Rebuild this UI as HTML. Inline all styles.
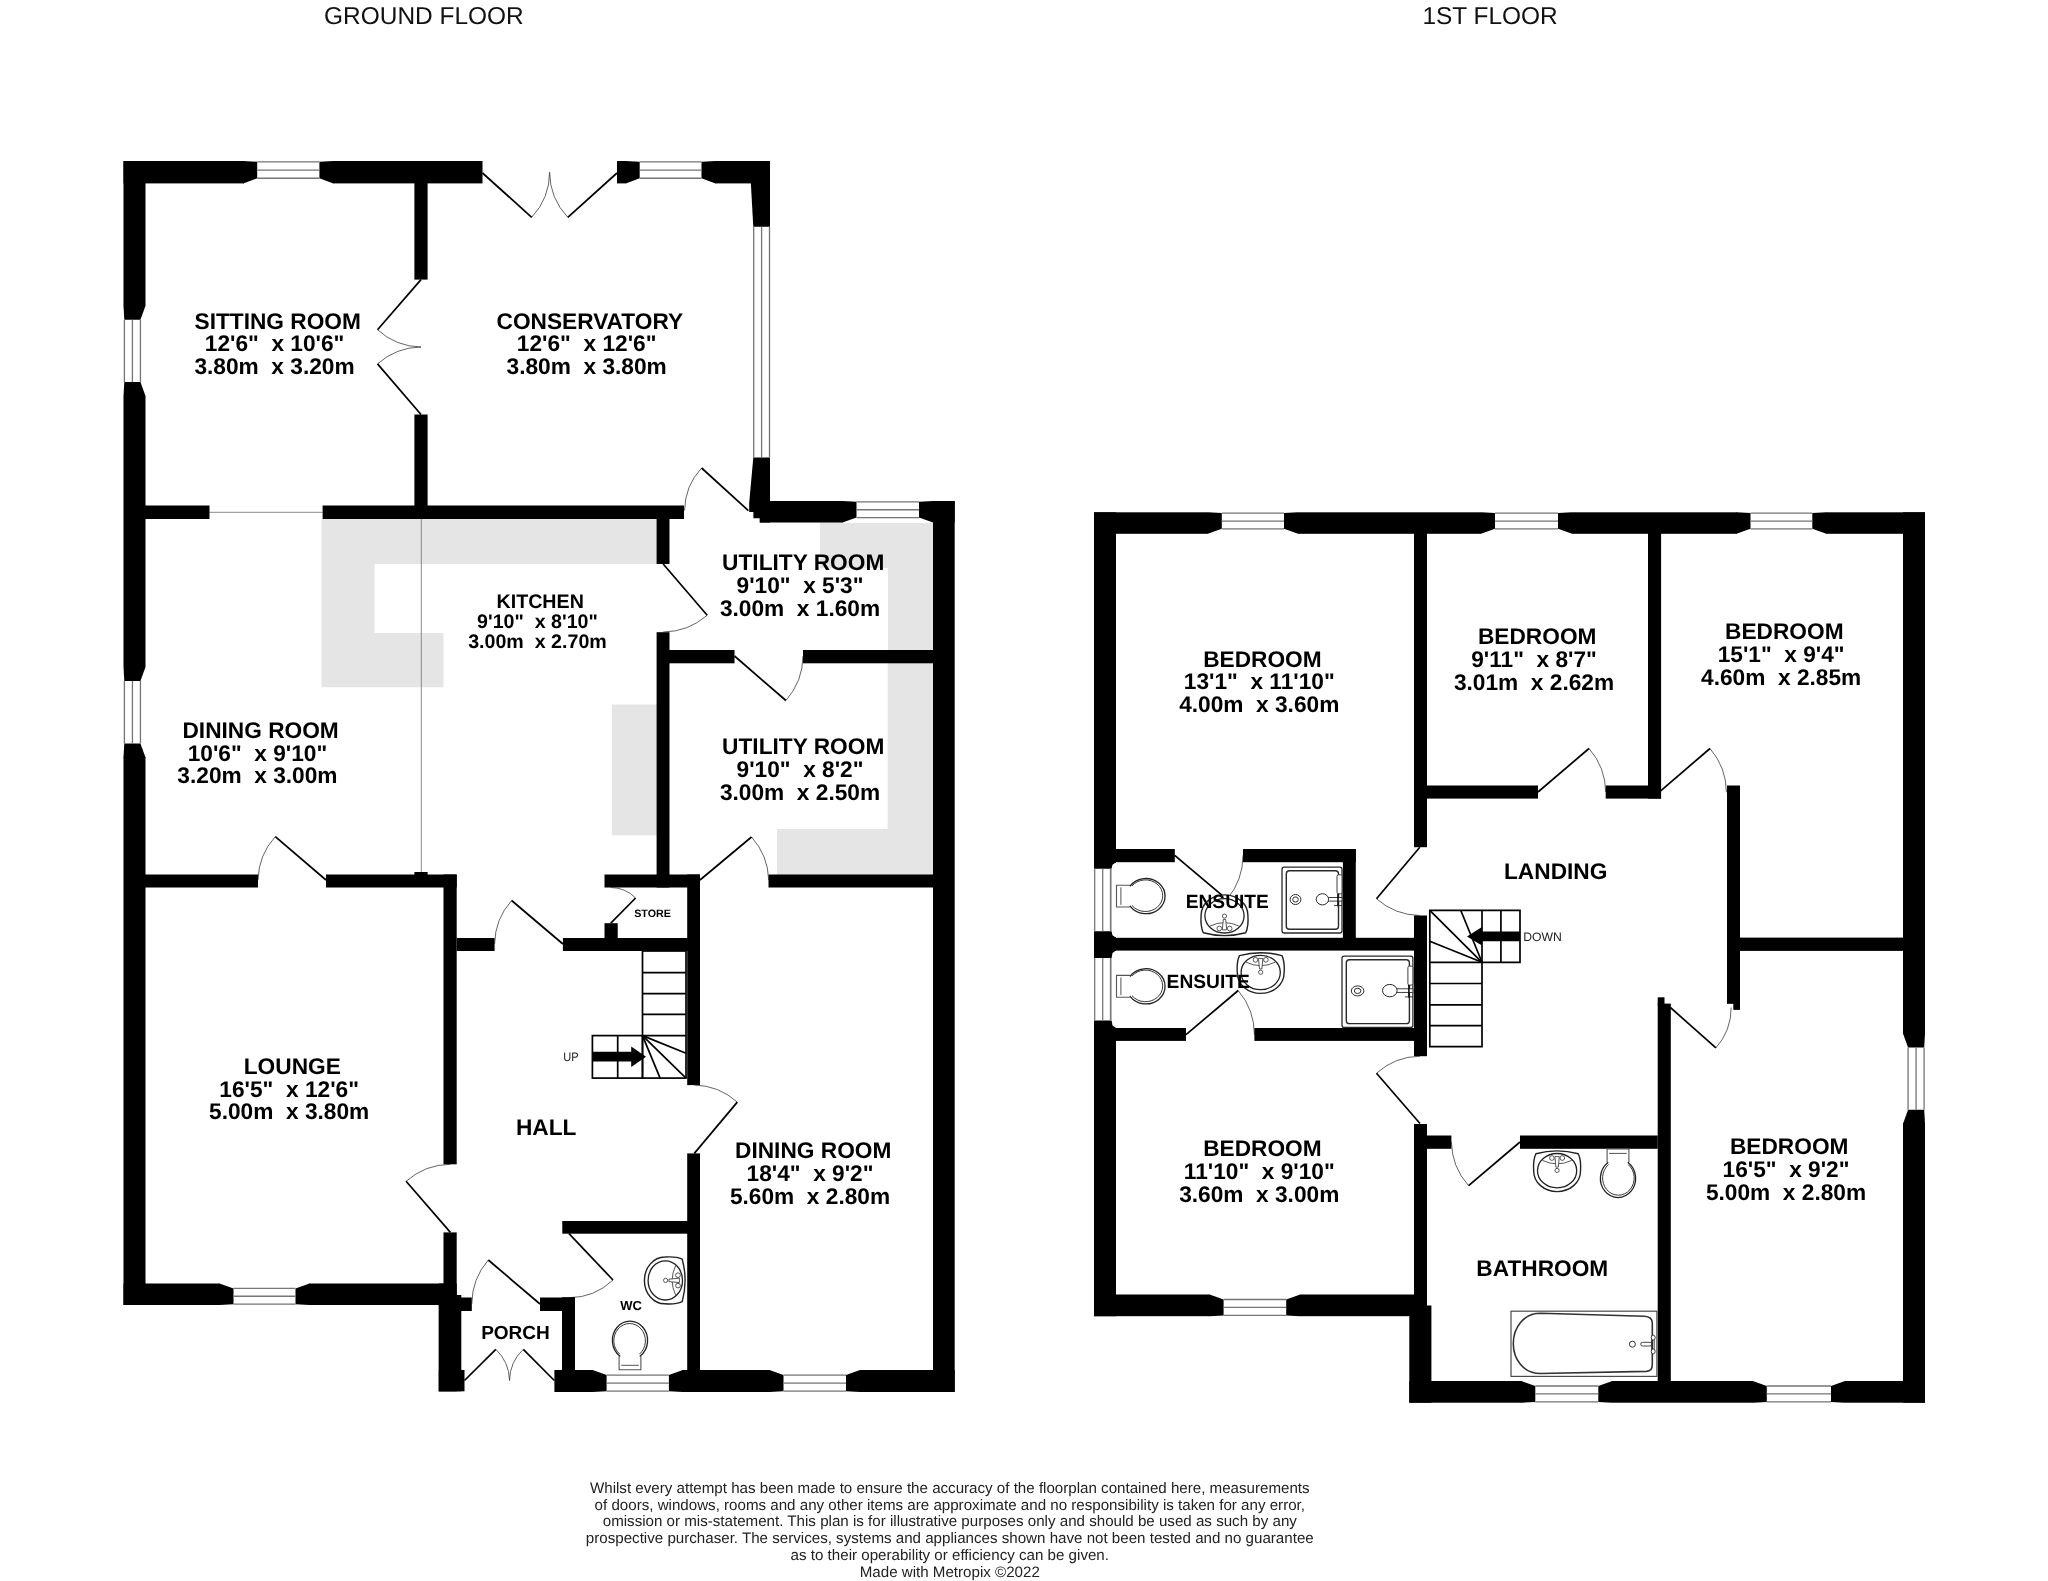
<!DOCTYPE html>
<html lang="en">
<head>
<meta charset="utf-8">
<title>Floorplan</title>
<style>
html,body{margin:0;padding:0;background:#fff;}
body{width:2048px;height:1581px;overflow:hidden;font-family:"Liberation Sans",sans-serif;}
svg{display:block;will-change:transform;font-family:"Liberation Sans",sans-serif;text-rendering:geometricPrecision;}
</style>
</head>
<body>
<svg width="2048" height="1581" viewBox="0 0 2048 1581">
<rect width="2048" height="1581" fill="#fff"/>
<polygon points="321.5,519 657,519 657,564 374.5,564 374.5,633 443.5,633 443.5,687.3 321.5,687.3" fill="#e5e5e5"/>
<rect x="611.9" y="704.5" width="45.1" height="130.8" fill="#e5e5e5"/>
<polygon points="820,522 933.5,522 933.5,650.5 888,650.5 888,568 820,568" fill="#e5e5e5"/>
<polygon points="887.6,663 933.5,663 933.5,875 777,875 777,829 887.6,829" fill="#e5e5e5"/>
<line x1="421.3" y1="519" x2="421.3" y2="873" stroke="#8a8a8a" stroke-width="1.0" stroke-linecap="butt"/>
<line x1="209.5" y1="512.3" x2="322.6" y2="512.3" stroke="#8a8a8a" stroke-width="1.0" stroke-linecap="butt"/>
<rect x="123.5" y="161" width="22" height="1144" fill="#000"/>
<rect x="123.5" y="161" width="359" height="22.4" fill="#000"/>
<rect x="617" y="161" width="153" height="22.4" fill="#000"/>
<rect x="933" y="501" width="21.7" height="891" fill="#000"/>
<rect x="759.8" y="501" width="194.9" height="21.5" fill="#000"/>
<rect x="554.4" y="1370" width="400.3" height="22" fill="#000"/>
<rect x="123.5" y="1283.5" width="321.5" height="21.5" fill="#000"/>
<rect x="438.8" y="1283.5" width="17.9" height="107.8" fill="#000"/>
<rect x="438.8" y="1295" width="22.5" height="96.3" fill="#000"/>
<rect x="438.8" y="1370" width="25.7" height="21.3" fill="#000"/>
<polygon points="749.6,161 770,161 770,226.8 753.3,226.8" fill="#000"/>
<polygon points="753.3,457.5 770,457.5 770,522.5 759.8,522.5 759.8,518.2 753.4,518.2 753.4,511.9 749.2,511.9 749.2,503" fill="#000"/>
<line x1="753.7" y1="226.8" x2="753.7" y2="457.5" stroke="#757575" stroke-width="1.3" stroke-linecap="butt"/>
<line x1="761.6" y1="226.8" x2="761.6" y2="457.5" stroke="#757575" stroke-width="1.3" stroke-linecap="butt"/>
<line x1="769.5" y1="226.8" x2="769.5" y2="457.5" stroke="#757575" stroke-width="1.3" stroke-linecap="butt"/>
<rect x="414.4" y="183" width="13.2" height="96.6" fill="#000"/>
<rect x="414.4" y="414.5" width="13.2" height="104.5" fill="#000"/>
<rect x="145" y="505.5" width="64.5" height="13.5" fill="#000"/>
<rect x="322.6" y="505.5" width="361.4" height="13.5" fill="#000"/>
<rect x="656.6" y="519" width="12.9" height="45" fill="#000"/>
<rect x="656.6" y="632.2" width="12.9" height="255.3" fill="#000"/>
<rect x="669" y="650" width="65.5" height="13.3" fill="#000"/>
<rect x="803" y="650" width="130.5" height="13.3" fill="#000"/>
<rect x="145" y="874.5" width="113" height="13" fill="#000"/>
<rect x="326" y="874.5" width="130.7" height="13" fill="#000"/>
<rect x="443.5" y="874.5" width="13.2" height="289.8" fill="#000"/>
<rect x="443.5" y="1232.4" width="13.2" height="63.6" fill="#000"/>
<rect x="456.7" y="938" width="37.9" height="13" fill="#000"/>
<rect x="562.9" y="938" width="137.1" height="13" fill="#000"/>
<rect x="604.5" y="874.5" width="95.5" height="13" fill="#000"/>
<rect x="604.5" y="923.2" width="13.2" height="16.8" fill="#000"/>
<rect x="768.5" y="874.5" width="165" height="13" fill="#000"/>
<rect x="687.2" y="874.5" width="12.8" height="210.6" fill="#000"/>
<rect x="687.2" y="1153.4" width="12.8" height="238.6" fill="#000"/>
<rect x="562.3" y="1221" width="137.7" height="12.7" fill="#000"/>
<rect x="461" y="1297.5" width="10.8" height="13.5" fill="#000"/>
<rect x="540" y="1297.5" width="35" height="13.5" fill="#000"/>
<rect x="562" y="1297.5" width="13" height="73.5" fill="#000"/>
<rect x="414.4" y="872" width="13.2" height="4" fill="#000"/>
<rect x="244" y="161" width="89" height="23" fill="#fff"/>
<polygon points="243.2,161 257.2,161.8 257.2,178.25 243.2,183.4" fill="#000"/>
<polygon points="333.4,161 319.4,161.8 319.4,178.25 333.4,183.4" fill="#000"/>
<line x1="257.2" y1="161.9" x2="319.4" y2="161.9" stroke="#757575" stroke-width="1.3" stroke-linecap="butt"/>
<line x1="257.2" y1="170.07" x2="319.4" y2="170.07" stroke="#757575" stroke-width="1.3" stroke-linecap="butt"/>
<line x1="257.2" y1="178.25" x2="319.4" y2="178.25" stroke="#757575" stroke-width="1.3" stroke-linecap="butt"/>
<rect x="626" y="161" width="89" height="23" fill="#fff"/>
<polygon points="625.7,161 639.7,161.8 639.7,178.25 625.7,183.4" fill="#000"/>
<polygon points="715.5,161 701.5,161.8 701.5,178.25 715.5,183.4" fill="#000"/>
<line x1="639.7" y1="161.9" x2="701.5" y2="161.9" stroke="#757575" stroke-width="1.3" stroke-linecap="butt"/>
<line x1="639.7" y1="170.07" x2="701.5" y2="170.07" stroke="#757575" stroke-width="1.3" stroke-linecap="butt"/>
<line x1="639.7" y1="178.25" x2="701.5" y2="178.25" stroke="#757575" stroke-width="1.3" stroke-linecap="butt"/>
<rect x="843" y="501" width="90" height="22" fill="#fff"/>
<polygon points="842.5,501 856.5,501.8 856.5,517.55 842.5,522.5" fill="#000"/>
<polygon points="933,501 919,501.8 919,517.55 933,522.5" fill="#000"/>
<line x1="856.5" y1="501.9" x2="919" y2="501.9" stroke="#757575" stroke-width="1.3" stroke-linecap="butt"/>
<line x1="856.5" y1="509.73" x2="919" y2="509.73" stroke="#757575" stroke-width="1.3" stroke-linecap="butt"/>
<line x1="856.5" y1="517.55" x2="919" y2="517.55" stroke="#757575" stroke-width="1.3" stroke-linecap="butt"/>
<rect x="123" y="306" width="23" height="90" fill="#fff"/>
<polygon points="123.5,305.7 124.3,319.7 140.44,319.7 145.5,305.7" fill="#000"/>
<polygon points="123.5,396 124.3,382 140.44,382 145.5,396" fill="#000"/>
<line x1="124.4" y1="319.7" x2="124.4" y2="382" stroke="#757575" stroke-width="1.3" stroke-linecap="butt"/>
<line x1="132.42" y1="319.7" x2="132.42" y2="382" stroke="#757575" stroke-width="1.3" stroke-linecap="butt"/>
<line x1="140.44" y1="319.7" x2="140.44" y2="382" stroke="#757575" stroke-width="1.3" stroke-linecap="butt"/>
<rect x="123" y="667" width="23" height="90" fill="#fff"/>
<polygon points="123.5,667 124.3,681 140.44,681 145.5,667" fill="#000"/>
<polygon points="123.5,757.6 124.3,743.6 140.44,743.6 145.5,757.6" fill="#000"/>
<line x1="124.4" y1="681" x2="124.4" y2="743.6" stroke="#757575" stroke-width="1.3" stroke-linecap="butt"/>
<line x1="132.42" y1="681" x2="132.42" y2="743.6" stroke="#757575" stroke-width="1.3" stroke-linecap="butt"/>
<line x1="140.44" y1="681" x2="140.44" y2="743.6" stroke="#757575" stroke-width="1.3" stroke-linecap="butt"/>
<rect x="220" y="1283" width="89" height="22" fill="#fff"/>
<polygon points="219.5,1305 233.5,1304.2 233.5,1288.44 219.5,1283.5" fill="#000"/>
<polygon points="309.5,1305 295.5,1304.2 295.5,1288.44 309.5,1283.5" fill="#000"/>
<line x1="233.5" y1="1304.1" x2="295.5" y2="1304.1" stroke="#757575" stroke-width="1.3" stroke-linecap="butt"/>
<line x1="233.5" y1="1296.27" x2="295.5" y2="1296.27" stroke="#757575" stroke-width="1.3" stroke-linecap="butt"/>
<line x1="233.5" y1="1288.44" x2="295.5" y2="1288.44" stroke="#757575" stroke-width="1.3" stroke-linecap="butt"/>
<rect x="593" y="1370" width="89" height="22" fill="#fff"/>
<polygon points="592.6,1392 606.6,1391.2 606.6,1375.06 592.6,1370" fill="#000"/>
<polygon points="682.9,1392 668.9,1391.2 668.9,1375.06 682.9,1370" fill="#000"/>
<line x1="606.6" y1="1391.1" x2="668.9" y2="1391.1" stroke="#757575" stroke-width="1.3" stroke-linecap="butt"/>
<line x1="606.6" y1="1383.08" x2="668.9" y2="1383.08" stroke="#757575" stroke-width="1.3" stroke-linecap="butt"/>
<line x1="606.6" y1="1375.06" x2="668.9" y2="1375.06" stroke="#757575" stroke-width="1.3" stroke-linecap="butt"/>
<rect x="770" y="1370" width="90" height="22" fill="#fff"/>
<polygon points="769.5,1392 783.5,1391.2 783.5,1375.06 769.5,1370" fill="#000"/>
<polygon points="860,1392 846,1391.2 846,1375.06 860,1370" fill="#000"/>
<line x1="783.5" y1="1391.1" x2="846" y2="1391.1" stroke="#757575" stroke-width="1.3" stroke-linecap="butt"/>
<line x1="783.5" y1="1383.08" x2="846" y2="1383.08" stroke="#757575" stroke-width="1.3" stroke-linecap="butt"/>
<line x1="783.5" y1="1375.06" x2="846" y2="1375.06" stroke="#757575" stroke-width="1.3" stroke-linecap="butt"/>
<path d="M377.5 329.7 A66.35 66.35 0 0 0 421 347" fill="none" stroke="#222" stroke-width="0.7"/>
<line x1="421" y1="279.6" x2="377.5" y2="329.7" stroke="#000" stroke-width="1.7" stroke-linecap="butt"/>
<path d="M377.5 363.9 A66.73 66.73 0 0 1 421 347" fill="none" stroke="#222" stroke-width="0.7"/>
<line x1="421" y1="414.5" x2="377.5" y2="363.9" stroke="#000" stroke-width="1.7" stroke-linecap="butt"/>
<path d="M531.7 217.3 A66.21 66.21 0 0 0 549.6 172.3" fill="none" stroke="#222" stroke-width="0.7"/>
<line x1="482.5" y1="173" x2="531.7" y2="217.3" stroke="#000" stroke-width="1.7" stroke-linecap="butt"/>
<path d="M567.8 217.3 A66.21 66.21 0 0 1 549.6 172.3" fill="none" stroke="#222" stroke-width="0.7"/>
<line x1="617" y1="173" x2="567.8" y2="217.3" stroke="#000" stroke-width="1.7" stroke-linecap="butt"/>
<path d="M701.6 468 A63.29 63.29 0 0 0 684.6 510.6" fill="none" stroke="#222" stroke-width="0.7"/>
<line x1="748.4" y1="510.6" x2="701.6" y2="468" stroke="#000" stroke-width="1.7" stroke-linecap="butt"/>
<path d="M707.2 615.2 A67.51 67.51 0 0 1 663.2 632" fill="none" stroke="#222" stroke-width="0.7"/>
<line x1="663.2" y1="564" x2="707.2" y2="615.2" stroke="#000" stroke-width="1.7" stroke-linecap="butt"/>
<path d="M785.9 700.5 A67.99 67.99 0 0 0 803 656" fill="none" stroke="#222" stroke-width="0.7"/>
<line x1="734.5" y1="656" x2="785.9" y2="700.5" stroke="#000" stroke-width="1.7" stroke-linecap="butt"/>
<path d="M275.3 836.6 A66.74 66.74 0 0 0 258 880" fill="none" stroke="#222" stroke-width="0.7"/>
<line x1="326" y1="880" x2="275.3" y2="836.6" stroke="#000" stroke-width="1.7" stroke-linecap="butt"/>
<path d="M511.6 900.5 A67.26 67.26 0 0 0 494.6 944" fill="none" stroke="#222" stroke-width="0.7"/>
<line x1="562.9" y1="944" x2="511.6" y2="900.5" stroke="#000" stroke-width="1.7" stroke-linecap="butt"/>
<path d="M635.6 898 A35.36 35.36 0 0 0 610.8 887.5" fill="none" stroke="#222" stroke-width="0.7"/>
<line x1="610.8" y1="923.2" x2="635.6" y2="898" stroke="#000" stroke-width="1.7" stroke-linecap="butt"/>
<path d="M751.5 837 A67.09 67.09 0 0 1 768.7 880" fill="none" stroke="#222" stroke-width="0.7"/>
<line x1="700" y1="880" x2="751.5" y2="837" stroke="#000" stroke-width="1.7" stroke-linecap="butt"/>
<path d="M406.1 1181.3 A67.63 67.63 0 0 1 450.4 1164.3" fill="none" stroke="#222" stroke-width="0.7"/>
<line x1="450.4" y1="1232.4" x2="406.1" y2="1181.3" stroke="#000" stroke-width="1.7" stroke-linecap="butt"/>
<path d="M737.3 1102.1 A66.94 66.94 0 0 0 694.3 1085" fill="none" stroke="#222" stroke-width="0.7"/>
<line x1="694.3" y1="1153.4" x2="737.3" y2="1102.1" stroke="#000" stroke-width="1.7" stroke-linecap="butt"/>
<path d="M613 1280 A63.87 63.87 0 0 1 569 1297.7" fill="none" stroke="#222" stroke-width="0.7"/>
<line x1="569" y1="1233.7" x2="613" y2="1280" stroke="#000" stroke-width="1.7" stroke-linecap="butt"/>
<path d="M488.3 1260 A67.89 67.89 0 0 0 471.8 1304" fill="none" stroke="#222" stroke-width="0.7"/>
<line x1="540" y1="1304" x2="488.3" y2="1260" stroke="#000" stroke-width="1.7" stroke-linecap="butt"/>
<path d="M495.8 1349.3 A44.19 44.19 0 0 1 509.5 1380.5" fill="none" stroke="#222" stroke-width="0.7"/>
<line x1="464.5" y1="1380.5" x2="495.8" y2="1349.3" stroke="#000" stroke-width="1.7" stroke-linecap="butt"/>
<path d="M523.3 1349.3 A43.98 43.98 0 0 0 509.5 1380.5" fill="none" stroke="#222" stroke-width="0.7"/>
<line x1="554.3" y1="1380.5" x2="523.3" y2="1349.3" stroke="#000" stroke-width="1.7" stroke-linecap="butt"/>
<rect x="562" y="1297.5" width="13" height="13.5" fill="#000"/>
<g fill="none" stroke="#000" stroke-width="1.7">
<rect x="642.5" y="951" width="43.5" height="127.1"/>
<rect x="592.4" y="1035.6" width="50.1" height="42.5"/>
<line x1="642.5" y1="972.6" x2="686" y2="972.6"/>
<line x1="642.5" y1="993.6" x2="686" y2="993.6"/>
<line x1="642.5" y1="1014.3" x2="686" y2="1014.3"/>
<line x1="642.5" y1="1035.6" x2="686" y2="1035.6"/>
<line x1="617.7" y1="1035.6" x2="617.7" y2="1078.1"/>
<line x1="642.5" y1="1035.6" x2="686" y2="1053.2"/>
<line x1="642.5" y1="1035.6" x2="686" y2="1078.1"/>
<line x1="642.5" y1="1035.6" x2="660.1" y2="1078.1"/>

</g>
<polygon points="592.4,1051.8 631.2,1051.8 631.2,1046.6 646,1056.7 631.2,1067 631.2,1061.6 592.4,1061.6" fill="#000"/>
<g transform="translate(685.1 1280.4) rotate(0)" fill="none" stroke="#222" stroke-width="1.4"><path d="M-2.9 -21.2 Q2.9 0 -2.9 21.2 Q-9 24.2 -20.3 23.4 A20.4 23.4 0 0 1 -20.3 -23.4 Q-9 -24.2 -2.9 -21.2 Z" fill="#fff"/><ellipse cx="-19.8" cy="0" rx="17.2" ry="19.6" stroke-width="1.3"/><g stroke="#444" stroke-width="0.9"><path d="M-9.5 -14.6 Q-16.5 0 -9.5 14.6"/><ellipse cx="-7.1" cy="-5.2" rx="2.4" ry="2.3" fill="#fff"/><ellipse cx="-7.1" cy="5.2" rx="2.4" ry="2.3" fill="#fff"/><path d="M-5.7 -2.2 L-16.2 -1.2 L-16.2 1.2 L-5.7 2.2 Z" fill="#fff"/><circle cx="-19.5" cy="0" r="2.1" fill="#fff"/></g></g>
<g transform="translate(630 1369.7) rotate(-90)" fill="none" stroke="#222" stroke-width="1.3"><path d="M13.3 -10.9 H0 V10.9 H13.3" fill="#fff" stroke="#555" stroke-width="1.1"/><path d="M13.3 -10.9 L13.8 -10.3 A19.2 17.6 0 1 1 13.8 10.3 L13.3 10.9" fill="#fff"/><path d="M15.5 -10.2 A17.2 15.8 0 1 1 15.5 9.4" stroke-width="0.9"/><line x1="4.4" y1="-8.8" x2="4.4" y2="8.8" stroke="#555" stroke-width="1"/></g>
<text x="277.7" y="328.5" font-size="22.7" font-weight="bold" text-anchor="middle" fill="#000">SITTING ROOM</text>
<text x="274.54" y="351.2" font-size="22.7" font-weight="bold" text-anchor="middle" fill="#000">12'6&quot;&#160; x 10'6&quot;</text>
<text x="274.54" y="374" font-size="22.7" font-weight="bold" text-anchor="middle" fill="#000">3.80m&#160; x 3.20m</text>
<text x="589.8" y="328.5" font-size="22.7" font-weight="bold" text-anchor="middle" fill="#000">CONSERVATORY</text>
<text x="586.64" y="351.2" font-size="22.7" font-weight="bold" text-anchor="middle" fill="#000">12'6&quot;&#160; x 12'6&quot;</text>
<text x="586.64" y="374" font-size="22.7" font-weight="bold" text-anchor="middle" fill="#000">3.80m&#160; x 3.80m</text>
<text x="540.2" y="607.6" font-size="19.65" font-weight="bold" text-anchor="middle" fill="#000">KITCHEN</text>
<text x="537.47" y="627.8" font-size="19.65" font-weight="bold" text-anchor="middle" fill="#000">9'10&quot;&#160; x 8'10&quot;</text>
<text x="537.47" y="647.7" font-size="19.65" font-weight="bold" text-anchor="middle" fill="#000">3.00m&#160; x 2.70m</text>
<text x="803.2" y="570.4" font-size="22.7" font-weight="bold" text-anchor="middle" fill="#000">UTILITY ROOM</text>
<text x="800.04" y="593.2" font-size="22.7" font-weight="bold" text-anchor="middle" fill="#000">9'10&quot;&#160; x 5'3&quot;</text>
<text x="800.04" y="616" font-size="22.7" font-weight="bold" text-anchor="middle" fill="#000">3.00m&#160; x 1.60m</text>
<text x="260.6" y="738" font-size="22.7" font-weight="bold" text-anchor="middle" fill="#000">DINING ROOM</text>
<text x="257.44" y="760.7" font-size="22.7" font-weight="bold" text-anchor="middle" fill="#000">10'6&quot;&#160; x 9'10&quot;</text>
<text x="257.44" y="783.4" font-size="22.7" font-weight="bold" text-anchor="middle" fill="#000">3.20m&#160; x 3.00m</text>
<text x="803.2" y="754.4" font-size="22.7" font-weight="bold" text-anchor="middle" fill="#000">UTILITY ROOM</text>
<text x="800.04" y="777.1" font-size="22.7" font-weight="bold" text-anchor="middle" fill="#000">9'10&quot;&#160; x 8'2&quot;</text>
<text x="800.04" y="799.9" font-size="22.7" font-weight="bold" text-anchor="middle" fill="#000">3.00m&#160; x 2.50m</text>
<text x="292.3" y="1073.8" font-size="22.7" font-weight="bold" text-anchor="middle" fill="#000">LOUNGE</text>
<text x="289.14" y="1096.5" font-size="22.7" font-weight="bold" text-anchor="middle" fill="#000">16'5&quot;&#160; x 12'6&quot;</text>
<text x="289.14" y="1119.3" font-size="22.7" font-weight="bold" text-anchor="middle" fill="#000">5.00m&#160; x 3.80m</text>
<text x="546.2" y="1134.5" font-size="22.7" font-weight="bold" text-anchor="middle" fill="#000">HALL</text>
<text x="813.2" y="1158" font-size="22.7" font-weight="bold" text-anchor="middle" fill="#000">DINING ROOM</text>
<text x="810.04" y="1180.8" font-size="22.7" font-weight="bold" text-anchor="middle" fill="#000">18'4&quot;&#160; x 9'2&quot;</text>
<text x="810.04" y="1203.5" font-size="22.7" font-weight="bold" text-anchor="middle" fill="#000">5.60m&#160; x 2.80m</text>
<text x="515.5" y="1338.8" font-size="19.05" font-weight="bold" text-anchor="middle" fill="#000">PORCH</text>
<text x="652.5" y="917.4" font-size="10.7" font-weight="bold" text-anchor="middle" fill="#000">STORE</text>
<text x="631.1" y="1309.5" font-size="13" font-weight="bold" text-anchor="middle" fill="#000">WC</text>
<text x="563.2" y="1060.9" font-size="12.4" fill="#222" textLength="15.4" lengthAdjust="spacingAndGlyphs">UP</text>
<rect x="1094" y="512.3" width="22" height="803.9" fill="#000"/>
<rect x="1094" y="512.3" width="831" height="21.5" fill="#000"/>
<rect x="1903" y="512.3" width="22" height="890.4" fill="#000"/>
<rect x="1094" y="1294.5" width="333" height="21.7" fill="#000"/>
<rect x="1409.3" y="1305.5" width="22.1" height="97.2" fill="#000"/>
<rect x="1409.3" y="1381" width="515.7" height="21.7" fill="#000"/>
<rect x="1414" y="533" width="13" height="314.2" fill="#000"/>
<rect x="1414" y="915.5" width="13" height="140.7" fill="#000"/>
<rect x="1414" y="1124" width="13" height="182" fill="#000"/>
<rect x="1427" y="785.5" width="111" height="13.1" fill="#000"/>
<rect x="1605.7" y="785.5" width="55.3" height="13.1" fill="#000"/>
<rect x="1648" y="533" width="13.1" height="265.6" fill="#000"/>
<rect x="1727" y="785.5" width="13" height="218.1" fill="#000"/>
<rect x="1733.3" y="1000" width="6.7" height="9.9" fill="#000"/>
<rect x="1740" y="937.6" width="163.5" height="13.3" fill="#000"/>
<rect x="1657.7" y="1003.6" width="13.1" height="377.9" fill="#000"/>
<rect x="1657.7" y="997.3" width="6.8" height="7.7" fill="#000"/>
<rect x="1427" y="1135.5" width="24.4" height="13.3" fill="#000"/>
<rect x="1520" y="1135.5" width="137.7" height="13.3" fill="#000"/>
<rect x="1115" y="849" width="59.8" height="13.2" fill="#000"/>
<rect x="1243" y="849" width="112.8" height="13.2" fill="#000"/>
<rect x="1342.9" y="849" width="12.9" height="89" fill="#000"/>
<rect x="1115" y="937.8" width="299.5" height="12.8" fill="#000"/>
<rect x="1115" y="1028" width="71" height="12.9" fill="#000"/>
<rect x="1254.4" y="1028" width="160.1" height="12.9" fill="#000"/>
<rect x="1208" y="512" width="90" height="22" fill="#fff"/>
<polygon points="1207.8,512.3 1221.8,513.1 1221.8,528.85 1207.8,533.8" fill="#000"/>
<polygon points="1298,512.3 1284,513.1 1284,528.85 1298,533.8" fill="#000"/>
<line x1="1221.8" y1="513.2" x2="1284" y2="513.2" stroke="#757575" stroke-width="1.3" stroke-linecap="butt"/>
<line x1="1221.8" y1="521.03" x2="1284" y2="521.03" stroke="#757575" stroke-width="1.3" stroke-linecap="butt"/>
<line x1="1221.8" y1="528.85" x2="1284" y2="528.85" stroke="#757575" stroke-width="1.3" stroke-linecap="butt"/>
<rect x="1481" y="512" width="91" height="22" fill="#fff"/>
<polygon points="1481,512.3 1495,513.1 1495,528.85 1481,533.8" fill="#000"/>
<polygon points="1572,512.3 1558,513.1 1558,528.85 1572,533.8" fill="#000"/>
<line x1="1495" y1="513.2" x2="1558" y2="513.2" stroke="#757575" stroke-width="1.3" stroke-linecap="butt"/>
<line x1="1495" y1="521.03" x2="1558" y2="521.03" stroke="#757575" stroke-width="1.3" stroke-linecap="butt"/>
<line x1="1495" y1="528.85" x2="1558" y2="528.85" stroke="#757575" stroke-width="1.3" stroke-linecap="butt"/>
<rect x="1737" y="512" width="89" height="22" fill="#fff"/>
<polygon points="1736.5,512.3 1750.5,513.1 1750.5,528.85 1736.5,533.8" fill="#000"/>
<polygon points="1826.3,512.3 1812.3,513.1 1812.3,528.85 1826.3,533.8" fill="#000"/>
<line x1="1750.5" y1="513.2" x2="1812.3" y2="513.2" stroke="#757575" stroke-width="1.3" stroke-linecap="butt"/>
<line x1="1750.5" y1="521.03" x2="1812.3" y2="521.03" stroke="#757575" stroke-width="1.3" stroke-linecap="butt"/>
<line x1="1750.5" y1="528.85" x2="1812.3" y2="528.85" stroke="#757575" stroke-width="1.3" stroke-linecap="butt"/>
<rect x="1903" y="1034" width="22" height="89" fill="#fff"/>
<polygon points="1925,1033.6 1924.2,1047.6 1908.06,1047.6 1903,1033.6" fill="#000"/>
<polygon points="1925,1123.8 1924.2,1109.8 1908.06,1109.8 1903,1123.8" fill="#000"/>
<line x1="1924.1" y1="1047.6" x2="1924.1" y2="1109.8" stroke="#757575" stroke-width="1.3" stroke-linecap="butt"/>
<line x1="1916.08" y1="1047.6" x2="1916.08" y2="1109.8" stroke="#757575" stroke-width="1.3" stroke-linecap="butt"/>
<line x1="1908.06" y1="1047.6" x2="1908.06" y2="1109.8" stroke="#757575" stroke-width="1.3" stroke-linecap="butt"/>
<rect x="1210" y="1294" width="90" height="23" fill="#fff"/>
<polygon points="1209.6,1316.2 1223.6,1315.4 1223.6,1299.49 1209.6,1294.5" fill="#000"/>
<polygon points="1300.2,1316.2 1286.2,1315.4 1286.2,1299.49 1300.2,1294.5" fill="#000"/>
<line x1="1223.6" y1="1315.3" x2="1286.2" y2="1315.3" stroke="#757575" stroke-width="1.3" stroke-linecap="butt"/>
<line x1="1223.6" y1="1307.4" x2="1286.2" y2="1307.4" stroke="#757575" stroke-width="1.3" stroke-linecap="butt"/>
<line x1="1223.6" y1="1299.49" x2="1286.2" y2="1299.49" stroke="#757575" stroke-width="1.3" stroke-linecap="butt"/>
<rect x="1522" y="1381" width="90" height="22" fill="#fff"/>
<polygon points="1521.3,1402.7 1535.3,1401.9 1535.3,1385.99 1521.3,1381" fill="#000"/>
<polygon points="1612.3,1402.7 1598.3,1401.9 1598.3,1385.99 1612.3,1381" fill="#000"/>
<line x1="1535.3" y1="1401.8" x2="1598.3" y2="1401.8" stroke="#757575" stroke-width="1.3" stroke-linecap="butt"/>
<line x1="1535.3" y1="1393.9" x2="1598.3" y2="1393.9" stroke="#757575" stroke-width="1.3" stroke-linecap="butt"/>
<line x1="1535.3" y1="1385.99" x2="1598.3" y2="1385.99" stroke="#757575" stroke-width="1.3" stroke-linecap="butt"/>
<rect x="1753" y="1381" width="92" height="22" fill="#fff"/>
<polygon points="1752.8,1402.7 1766.8,1401.9 1766.8,1385.99 1752.8,1381" fill="#000"/>
<polygon points="1845,1402.7 1831,1401.9 1831,1385.99 1845,1381" fill="#000"/>
<line x1="1766.8" y1="1401.8" x2="1831" y2="1401.8" stroke="#757575" stroke-width="1.3" stroke-linecap="butt"/>
<line x1="1766.8" y1="1393.9" x2="1831" y2="1393.9" stroke="#757575" stroke-width="1.3" stroke-linecap="butt"/>
<line x1="1766.8" y1="1385.99" x2="1831" y2="1385.99" stroke="#757575" stroke-width="1.3" stroke-linecap="butt"/>
<rect x="1093" y="863" width="24" height="74" fill="#fff"/>
<polygon points="1094,862.2 1116,862.2 1112.5,864.7 1111.6,868.8 1094,868.8" fill="#000"/>
<polygon points="1094,937.8 1116,937.8 1112.5,935.3 1111.6,931.3 1094,931.3" fill="#000"/>
<line x1="1094.7" y1="868.8" x2="1094.7" y2="931.3" stroke="#7a7a7a" stroke-width="1.3" stroke-linecap="butt"/>
<line x1="1102.7" y1="868.8" x2="1102.7" y2="931.3" stroke="#7a7a7a" stroke-width="1.3" stroke-linecap="butt"/>
<line x1="1110.7" y1="868.8" x2="1110.7" y2="931.3" stroke="#7a7a7a" stroke-width="1.7" stroke-linecap="butt"/>
<rect x="1093" y="951" width="24" height="77" fill="#fff"/>
<polygon points="1094,950.6 1116,950.6 1112.5,953.1 1111.6,958 1094,958" fill="#000"/>
<polygon points="1094,1028 1116,1028 1112.5,1025.5 1111.6,1020.4 1094,1020.4" fill="#000"/>
<line x1="1094.7" y1="958" x2="1094.7" y2="1020.4" stroke="#7a7a7a" stroke-width="1.3" stroke-linecap="butt"/>
<line x1="1102.7" y1="958" x2="1102.7" y2="1020.4" stroke="#7a7a7a" stroke-width="1.3" stroke-linecap="butt"/>
<line x1="1110.7" y1="958" x2="1110.7" y2="1020.4" stroke="#7a7a7a" stroke-width="1.7" stroke-linecap="butt"/>
<path d="M1226.9 899.4 A68.27 68.27 0 0 0 1243 855.4" fill="none" stroke="#222" stroke-width="0.7"/>
<line x1="1174.7" y1="855.4" x2="1226.9" y2="899.4" stroke="#000" stroke-width="1.7" stroke-linecap="butt"/>
<path d="M1238.2 990.5 A68.4 68.4 0 0 1 1254.4 1034.7" fill="none" stroke="#222" stroke-width="0.7"/>
<line x1="1186" y1="1034.7" x2="1238.2" y2="990.5" stroke="#000" stroke-width="1.7" stroke-linecap="butt"/>
<path d="M1589 748.5 A67.03 67.03 0 0 1 1605.7 792" fill="none" stroke="#222" stroke-width="0.7"/>
<line x1="1538" y1="792" x2="1589" y2="748.5" stroke="#000" stroke-width="1.7" stroke-linecap="butt"/>
<path d="M1710 748.5 A67.3 67.3 0 0 1 1726.4 792.3" fill="none" stroke="#222" stroke-width="0.7"/>
<line x1="1658.9" y1="792.3" x2="1710" y2="748.5" stroke="#000" stroke-width="1.7" stroke-linecap="butt"/>
<path d="M1376.5 898.8 A67.36 67.36 0 0 0 1419.8 915.5" fill="none" stroke="#222" stroke-width="0.7"/>
<line x1="1419.8" y1="847.2" x2="1376.5" y2="898.8" stroke="#000" stroke-width="1.7" stroke-linecap="butt"/>
<path d="M1376.5 1073.2 A66.5 66.5 0 0 1 1420 1056.2" fill="none" stroke="#222" stroke-width="0.7"/>
<line x1="1420" y1="1123.5" x2="1376.5" y2="1073.2" stroke="#000" stroke-width="1.7" stroke-linecap="butt"/>
<path d="M1715.9 1047.9 A60.85 60.85 0 0 0 1731.2 1007.5" fill="none" stroke="#222" stroke-width="0.7"/>
<line x1="1670.4" y1="1007.5" x2="1715.9" y2="1047.9" stroke="#000" stroke-width="1.7" stroke-linecap="butt"/>
<path d="M1468.6 1185.7 A67.47 67.47 0 0 1 1451.4 1142" fill="none" stroke="#222" stroke-width="0.7"/>
<line x1="1520" y1="1142" x2="1468.6" y2="1185.7" stroke="#000" stroke-width="1.7" stroke-linecap="butt"/>
<rect x="1727" y="990" width="6.4" height="13.6" fill="#000"/>
<g fill="none" stroke="#000" stroke-width="1.7">
<path d="M1429.8 910.3 H1520 V962.3 H1482 V1046.6 H1429.8 Z"/>
<line x1="1429.8" y1="962.3" x2="1482" y2="962.3"/>
<line x1="1429.8" y1="983.5" x2="1482" y2="983.5"/>
<line x1="1429.8" y1="1004.9" x2="1482" y2="1004.9"/>
<line x1="1429.8" y1="1025.7" x2="1482" y2="1025.7"/>
<line x1="1482" y1="910.3" x2="1482" y2="962.3"/>
<line x1="1500.9" y1="910.3" x2="1500.9" y2="962.3"/>
<line x1="1482" y1="962.3" x2="1429.8" y2="941.2"/>
<line x1="1482" y1="962.3" x2="1429.8" y2="910.3"/>
<line x1="1482" y1="962.3" x2="1460.7" y2="910.3"/>
</g>
<polygon points="1520,931.4 1482,931.4 1482,927 1467,936.5 1482,945.6 1482,941.2 1520,941.2" fill="#000"/>
<g transform="translate(1116.5 896.1) rotate(0)" fill="none" stroke="#222" stroke-width="1.3"><path d="M13.3 -10.9 H0 V10.9 H13.3" fill="#fff" stroke="#555" stroke-width="1.1"/><path d="M13.3 -10.9 L13.8 -10.3 A19.2 17.6 0 1 1 13.8 10.3 L13.3 10.9" fill="#fff"/><path d="M15.5 -10.2 A17.2 15.8 0 1 1 15.5 9.4" stroke-width="0.9"/><line x1="4.4" y1="-8.8" x2="4.4" y2="8.8" stroke="#555" stroke-width="1"/></g>
<g transform="translate(1116.5 986.3) rotate(0)" fill="none" stroke="#222" stroke-width="1.3"><path d="M13.3 -10.9 H0 V10.9 H13.3" fill="#fff" stroke="#555" stroke-width="1.1"/><path d="M13.3 -10.9 L13.8 -10.3 A19.2 17.6 0 1 1 13.8 10.3 L13.3 10.9" fill="#fff"/><path d="M15.5 -10.2 A17.2 15.8 0 1 1 15.5 9.4" stroke-width="0.9"/><line x1="4.4" y1="-8.8" x2="4.4" y2="8.8" stroke="#555" stroke-width="1"/></g>
<g transform="translate(1224.5 935.6) rotate(90)" fill="none" stroke="#222" stroke-width="1.4"><path d="M-2.9 -21.2 Q2.9 0 -2.9 21.2 Q-9 24.2 -20.3 23.4 A20.4 23.4 0 0 1 -20.3 -23.4 Q-9 -24.2 -2.9 -21.2 Z" fill="#fff"/><ellipse cx="-19.8" cy="0" rx="17.2" ry="19.6" stroke-width="1.3"/><g stroke="#444" stroke-width="0.9"><path d="M-9.5 -14.6 Q-16.5 0 -9.5 14.6"/><ellipse cx="-7.1" cy="-5.2" rx="2.4" ry="2.3" fill="#fff"/><ellipse cx="-7.1" cy="5.2" rx="2.4" ry="2.3" fill="#fff"/><path d="M-5.7 -2.2 L-16.2 -1.2 L-16.2 1.2 L-5.7 2.2 Z" fill="#fff"/><circle cx="-19.5" cy="0" r="2.1" fill="#fff"/></g></g>
<g transform="translate(1260.7 952.7) rotate(-90)" fill="none" stroke="#222" stroke-width="1.4"><path d="M-2.9 -21.2 Q2.9 0 -2.9 21.2 Q-9 24.2 -20.3 23.4 A20.4 23.4 0 0 1 -20.3 -23.4 Q-9 -24.2 -2.9 -21.2 Z" fill="#fff"/><ellipse cx="-19.8" cy="0" rx="17.2" ry="19.6" stroke-width="1.3"/><g stroke="#444" stroke-width="0.9"><path d="M-9.5 -14.6 Q-16.5 0 -9.5 14.6"/><ellipse cx="-7.1" cy="-5.2" rx="2.4" ry="2.3" fill="#fff"/><ellipse cx="-7.1" cy="5.2" rx="2.4" ry="2.3" fill="#fff"/><path d="M-5.7 -2.2 L-16.2 -1.2 L-16.2 1.2 L-5.7 2.2 Z" fill="#fff"/><circle cx="-19.5" cy="0" r="2.1" fill="#fff"/></g></g>
<g transform="translate(1557.1 1150.9) rotate(-90)" fill="none" stroke="#222" stroke-width="1.4"><path d="M-2.9 -21.2 Q2.9 0 -2.9 21.2 Q-9 24.2 -20.3 23.4 A20.4 23.4 0 0 1 -20.3 -23.4 Q-9 -24.2 -2.9 -21.2 Z" fill="#fff"/><ellipse cx="-19.8" cy="0" rx="17.2" ry="19.6" stroke-width="1.3"/><g stroke="#444" stroke-width="0.9"><path d="M-9.5 -14.6 Q-16.5 0 -9.5 14.6"/><ellipse cx="-7.1" cy="-5.2" rx="2.4" ry="2.3" fill="#fff"/><ellipse cx="-7.1" cy="5.2" rx="2.4" ry="2.3" fill="#fff"/><path d="M-5.7 -2.2 L-16.2 -1.2 L-16.2 1.2 L-5.7 2.2 Z" fill="#fff"/><circle cx="-19.5" cy="0" r="2.1" fill="#fff"/></g></g>
<g transform="translate(1618 1149) rotate(90)" fill="none" stroke="#222" stroke-width="1.3"><path d="M13.3 -10.9 H0 V10.9 H13.3" fill="#fff" stroke="#555" stroke-width="1.1"/><path d="M13.3 -10.9 L13.8 -10.3 A19.2 17.6 0 1 1 13.8 10.3 L13.3 10.9" fill="#fff"/><path d="M15.5 -10.2 A17.2 15.8 0 1 1 15.5 9.4" stroke-width="0.9"/><line x1="4.4" y1="-8.8" x2="4.4" y2="8.8" stroke="#555" stroke-width="1"/></g>
<g fill="none" stroke="#2a2a2a" stroke-width="1.3">
<rect x="1282" y="867.2" width="60" height="65.8" rx="2.2" fill="#fff"/>
<rect x="1286.3" y="870.8" width="52.2" height="58.4" rx="3.2" stroke-width="1.4"/>
<ellipse cx="1295.5" cy="899.5" rx="5.4" ry="5" stroke-width="1"/>
<ellipse cx="1295.5" cy="899.5" rx="2.81" ry="2.6" stroke-width="1"/>
<rect x="1322.4" y="897.5" width="19.6" height="3.6" fill="#fff" stroke-width="0.9"/>
<ellipse cx="1322.4" cy="899.3" rx="6.2" ry="5.6" fill="#fff" stroke-width="1"/>
<rect x="1337" y="874.8" width="5" height="19" rx="1.5" fill="#fff" stroke-width="0.9"/>
<line x1="1338" y1="893.8" x2="1338" y2="906.3" stroke="#111" stroke-width="1.6"/>
<line x1="1334" y1="905.6" x2="1342" y2="905.6" stroke="#111" stroke-width="0.8"/>
</g>
<g fill="none" stroke="#2a2a2a" stroke-width="1.3">
<rect x="1342" y="956.1" width="70.9" height="71.3" rx="2.2" fill="#fff"/>
<rect x="1346.3" y="959.7" width="63.1" height="63.9" rx="3.2" stroke-width="1.4"/>
<ellipse cx="1357.6" cy="990.9" rx="6.3" ry="5" stroke-width="1"/>
<ellipse cx="1357.6" cy="990.9" rx="3.28" ry="2.6" stroke-width="1"/>
<rect x="1389.8" y="988.8" width="23.1" height="3.6" fill="#fff" stroke-width="0.9"/>
<ellipse cx="1389.8" cy="990.6" rx="7.3" ry="6.2" fill="#fff" stroke-width="1"/>
<rect x="1407.9" y="966.1" width="5" height="19" rx="1.5" fill="#fff" stroke-width="0.9"/>
<line x1="1408.9" y1="985.1" x2="1408.9" y2="997.6" stroke="#111" stroke-width="1.6"/>
<line x1="1404.9" y1="996.9" x2="1412.9" y2="996.9" stroke="#111" stroke-width="0.8"/>
</g>
<g fill="none" stroke="#333" stroke-width="1.6">
<rect x="1511" y="1311.2" width="145.9" height="65.2" stroke="#4a4a4a" stroke-width="1.2"/>
<path d="M1540.7 1313.3 L1644.4 1316.2 Q1652.3 1316.6 1652.3 1323 L1652.3 1364.5 Q1652.3 1371.1 1646.5 1371.4 L1540.7 1373.5 C1523 1373.5 1513.3 1359 1513.3 1343.6 C1513.3 1327 1524 1313.3 1540.7 1313.3 Z" fill="#fff"/>
<circle cx="1632.4" cy="1344.2" r="3" stroke-width="1"/>
<rect x="1640.7" y="1342.3" width="11.2" height="3.7" rx="1.8" stroke-width="0.9"/>
<rect x="1651.6" y="1335.5" width="2.6" height="18" rx="1.2" stroke-width="0.9"/>
<ellipse cx="1653.2" cy="1337.6" rx="2" ry="2.5" fill="#fff" stroke-width="0.9"/>
<ellipse cx="1653.2" cy="1351.4" rx="2" ry="2.5" fill="#fff" stroke-width="0.9"/>
</g>
<text x="1262.4" y="666.6" font-size="22.7" font-weight="bold" text-anchor="middle" fill="#000">BEDROOM</text>
<text x="1259.24" y="689.3" font-size="22.7" font-weight="bold" text-anchor="middle" fill="#000">13'1&quot;&#160; x 11'10&quot;</text>
<text x="1259.24" y="712.1" font-size="22.7" font-weight="bold" text-anchor="middle" fill="#000">4.00m&#160; x 3.60m</text>
<text x="1537.2" y="644.3" font-size="22.7" font-weight="bold" text-anchor="middle" fill="#000">BEDROOM</text>
<text x="1534.04" y="667.1" font-size="22.7" font-weight="bold" text-anchor="middle" fill="#000">9'11&quot;&#160; x 8'7&quot;</text>
<text x="1534.04" y="689.8" font-size="22.7" font-weight="bold" text-anchor="middle" fill="#000">3.01m&#160; x 2.62m</text>
<text x="1784.3" y="639.3" font-size="22.7" font-weight="bold" text-anchor="middle" fill="#000">BEDROOM</text>
<text x="1781.14" y="662" font-size="22.7" font-weight="bold" text-anchor="middle" fill="#000">15'1&quot;&#160; x 9'4&quot;</text>
<text x="1781.14" y="684.8" font-size="22.7" font-weight="bold" text-anchor="middle" fill="#000">4.60m&#160; x 2.85m</text>
<text x="1555.7" y="878.8" font-size="22.7" font-weight="bold" text-anchor="middle" fill="#000">LANDING</text>
<text x="1227.3" y="907.7" font-size="19.2" font-weight="bold" text-anchor="middle" fill="#000">ENSUITE</text>
<text x="1208.2" y="987.9" font-size="19.2" font-weight="bold" text-anchor="middle" fill="#000">ENSUITE</text>
<text x="1262.4" y="1155.7" font-size="22.7" font-weight="bold" text-anchor="middle" fill="#000">BEDROOM</text>
<text x="1259.24" y="1178.5" font-size="22.7" font-weight="bold" text-anchor="middle" fill="#000">11'10&quot;&#160; x 9'10&quot;</text>
<text x="1259.24" y="1201.6" font-size="22.7" font-weight="bold" text-anchor="middle" fill="#000">3.60m&#160; x 3.00m</text>
<text x="1542.3" y="1276" font-size="22.7" font-weight="bold" text-anchor="middle" fill="#000">BATHROOM</text>
<text x="1789.2" y="1154" font-size="22.7" font-weight="bold" text-anchor="middle" fill="#000">BEDROOM</text>
<text x="1786.04" y="1177.3" font-size="22.7" font-weight="bold" text-anchor="middle" fill="#000">16'5&quot;&#160; x 9'2&quot;</text>
<text x="1786.04" y="1200.2" font-size="22.7" font-weight="bold" text-anchor="middle" fill="#000">5.00m&#160; x 2.80m</text>
<text x="1523.2" y="940.5" font-size="12.2" fill="#222" textLength="38.6" lengthAdjust="spacingAndGlyphs">DOWN</text>
<text x="423.9" y="24.4" font-size="24.45" text-anchor="middle" fill="#111">GROUND FLOOR</text>
<text x="1490.1" y="24.4" font-size="24.45" text-anchor="middle" fill="#111">1ST FLOOR</text>
<text x="949.8" y="1493" font-size="15.13" text-anchor="middle" fill="#222">Whilst every attempt has been made to ensure the accuracy of the floorplan contained here, measurements</text>
<text x="949.8" y="1509.7" font-size="15.13" text-anchor="middle" fill="#222">of doors, windows, rooms and any other items are approximate and no responsibility is taken for any error,</text>
<text x="949.8" y="1526.4" font-size="15.13" text-anchor="middle" fill="#222">omission or mis-statement. This plan is for illustrative purposes only and should be used as such by any</text>
<text x="949.8" y="1543.1" font-size="15.13" text-anchor="middle" fill="#222">prospective purchaser. The services, systems and appliances shown have not been tested and no guarantee</text>
<text x="949.8" y="1559.8" font-size="15.13" text-anchor="middle" fill="#222">as to their operability or efficiency can be given.</text>
<text x="949.8" y="1576.5" font-size="15.13" text-anchor="middle" fill="#222">Made with Metropix ©2022</text>
</svg>
</body>
</html>
